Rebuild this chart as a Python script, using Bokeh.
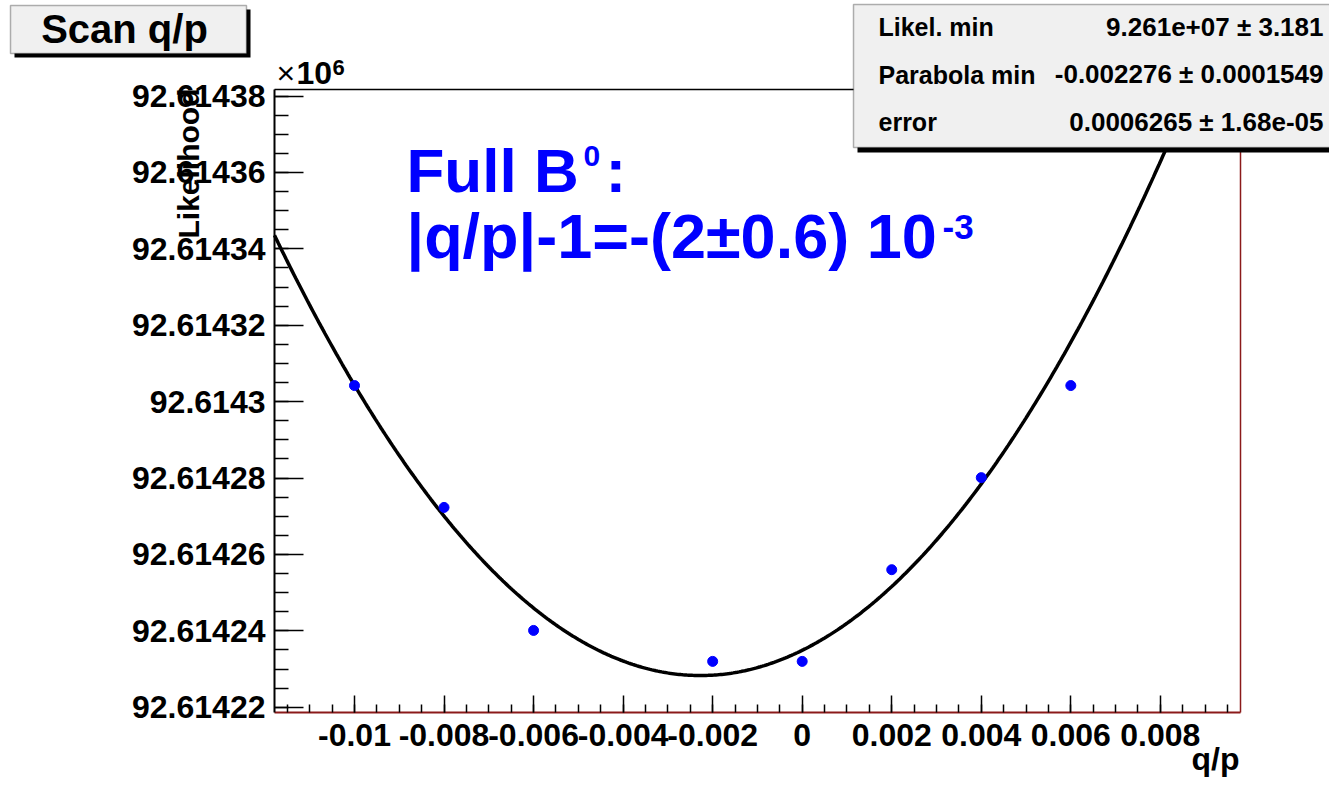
import numpy as np
from bokeh.plotting import figure
from bokeh.models import Range1d, FixedTicker, LinearAxis, Label, BoxAnnotation
from bokeh.embed import file_html
from bokeh.resources import INLINE

# ---------------- data ----------------
title_text = "Scan q/p"
x_title = "q/p"
y_title = "Likelihood"

q_p = [-0.010, -0.008, -0.006, -0.002, 0.000, 0.002, 0.004, 0.006]
likelihood = [92614304.2, 92614272.3, 92614240.1, 92614232.0,
              92614232.0, 92614256.0, 92614280.1, 92614304.2]

# fitted parabola parameters (from the stats box)
fit_min = 92614228.3
fit_x0 = -0.002276
fit_sigma = 0.0006265

x_ticks = [-0.01, -0.008, -0.006, -0.004, -0.002, 0.0, 0.002, 0.004, 0.006, 0.008]
x_tick_labels = ["-0.01", "-0.008", "-0.006", "-0.004", "-0.002", "0",
                 "0.002", "0.004", "0.006", "0.008"]
y_ticks = [92614220, 92614240, 92614260, 92614280, 92614300,
           92614320, 92614340, 92614360, 92614380]
y_tick_labels = ["92.61422", "92.61424", "92.61426", "92.61428", "92.6143",
                 "92.61432", "92.61434", "92.61436", "92.61438"]

stats_names = ["Likel. min", "Parabola min", "error"]
stats_values = ["9.261e+07 \u00b1 3.181", "-0.002276 \u00b1 0.0001549",
                "0.0006265 \u00b1 1.68e-05"]

text_line1 = "Full B"
text_line1_sup = "0"
text_line1_end = ":"
text_line2 = "|q/p|-1=-(2\u00b10.6) 10"
text_line2_sup = "-3"

# ---------------- geometry ----------------
W, H = 1329, 778
# data window of the drawn frame
x_lo, x_hi = -0.011787, 0.009790
y_lo, y_hi = 92614218.6, 92614381.7
# whole canvas mapped to data (axes are placed at the frame edges)
cx0, cx1 = -0.017907, 0.011778
cy0, cy1 = 92614201.34, 92614405.0

p = figure(width=W, height=H, x_range=Range1d(cx0, cx1),
           y_range=Range1d(cy0, cy1), output_backend="svg",
           toolbar_location=None, min_border=0, min_border_left=0,
           min_border_right=0, min_border_top=0, min_border_bottom=0)
p.grid.visible = False
p.outline_line_color = None
p.background_fill_color = "white"
p.border_fill_color = "white"

FONT = "Liberation Sans"
RED = "#8B1A1A"

x_minor = [round(-0.0115 + 0.0005 * i, 4) for i in range(43)]
y_minor = list(range(92614220, 92614381, 5))

xa = p.xaxis[0]
xa.fixed_location = y_lo
xa.bounds = (x_lo, x_hi)
xa.ticker = FixedTicker(ticks=x_ticks, minor_ticks=x_minor)
xa.major_label_overrides = dict(zip(x_ticks, x_tick_labels))
xa.axis_line_color = RED
xa.axis_line_width = 2
xa.major_tick_in = 17
xa.major_tick_out = 0
xa.minor_tick_in = 8
xa.minor_tick_out = 0
xa.major_tick_line_color = "black"
xa.minor_tick_line_color = "black"
xa.major_tick_line_width = 1.5
xa.minor_tick_line_width = 1.5
xa.major_label_text_font = FONT
xa.major_label_text_font_style = "bold"
xa.major_label_text_font_size = "32px"
xa.major_label_text_color = "black"
xa.major_label_standoff = 11

ya = p.yaxis[0]
ya.fixed_location = x_lo
ya.bounds = (y_lo, y_hi)
ya.ticker = FixedTicker(ticks=y_ticks, minor_ticks=y_minor)
ya.major_label_overrides = dict(zip(y_ticks, y_tick_labels))
ya.axis_line_color = "black"
ya.axis_line_width = 2
ya.major_tick_in = 29
ya.major_tick_out = 0
ya.minor_tick_in = 14
ya.minor_tick_out = 0
ya.major_tick_line_color = "black"
ya.minor_tick_line_color = "black"
ya.major_tick_line_width = 1.5
ya.minor_tick_line_width = 1.5
ya.major_label_text_font = FONT
ya.major_label_text_font_style = "bold"
ya.major_label_text_font_size = "32px"
ya.major_label_text_color = "black"
ya.major_label_standoff = 9

top_axis = LinearAxis(ticker=FixedTicker(ticks=[]), axis_line_color="black",
                      axis_line_width=1.5, major_tick_line_color=None,
                      minor_tick_line_color=None, major_label_text_font_size="0px",
                      fixed_location=y_hi, bounds=(x_lo, x_hi))
p.add_layout(top_axis, "above")
right_axis = LinearAxis(ticker=FixedTicker(ticks=[]), axis_line_color=RED,
                        axis_line_width=1.5, major_tick_line_color=None,
                        minor_tick_line_color=None, major_label_text_font_size="0px",
                        fixed_location=x_hi, bounds=(y_lo, y_hi))
p.add_layout(right_axis, "right")

# ---------------- glyphs ----------------
curve_x = np.linspace(x_lo, x_hi, 500)
curve_y = fit_min + 0.5 * ((curve_x - fit_x0) / fit_sigma) ** 2
curve_y = np.where(curve_y <= y_hi, curve_y, np.nan)
p.line(curve_x, curve_y, line_color="black", line_width=3.5)
p.scatter(q_p, likelihood, size=10, marker="circle", color="#0000FF")

# ---------------- annotations (page pixel positions) ----------------
def box(l, r, t, b, fill, lw=0, lc=None):
    bx = BoxAnnotation(left=l, right=r, top=H - t, bottom=H - b,
                       left_units="screen", right_units="screen",
                       top_units="screen", bottom_units="screen",
                       fill_color=fill, fill_alpha=1.0,
                       line_color=lc, line_width=lw, level="overlay")
    p.add_layout(bx)

def label(x, base, text, size, align="left", color="black", style="bold",
          corr=0.375):
    # base: wanted baseline (page px); corr compensates the renderer's offset
    lb = Label(x=x, y=H - (base - corr * size), x_units="screen",
               y_units="screen", text=text, text_font=FONT,
               text_font_style=style, text_font_size=f"{size}px",
               text_align=align, text_baseline="alphabetic",
               text_color=color, level="overlay")
    p.add_layout(lb)

# title box
box(14, 250, 9, 57, "black")
box(10, 246, 5, 53, "#F0F0F0", 1.5, "black")
label(124, 39, title_text, 40, align="center", corr=0.275)

# stats box
box(857, 1340, 8, 152, "black")
box(853, 1335, 4, 147, "#F0F0F0", 1.5, "black")
for i, (nm, vl) in enumerate(zip(stats_names, stats_values)):
    yb = 36 + 47.5 * i
    label(878, yb, nm, 25)
    label(1323, yb, vl, 26, align="right")

# exponent of y axis
label(276, 84, "\u00d7", 32, style="normal")
label(296, 84, "10", 32)
label(332, 75, "6", 22)

# y title (vertical)
p.add_layout(Label(x=188, y=H - 88, x_units="screen", y_units="screen",
                   text=y_title, text_font=FONT, text_font_style="bold",
                   text_font_size="30px", text_align="right",
                   text_baseline="alphabetic", angle=np.pi / 2,
                   text_color="black", level="overlay"))
# x title
label(1239, 770, x_title, 32, align="right", corr=0.344)

# blue annotation
BLUE = "#0000FF"
label(406, 193, text_line1, 62, color=BLUE)
label(583, 167, text_line1_sup, 30, color=BLUE)
label(605, 193, text_line1_end, 62, color=BLUE)
label(406, 267, text_line2, 63, color=BLUE, corr=0.5)
label(942, 240, text_line2_sup, 35, color=BLUE)

open("out.html", "w").write(file_html(p, INLINE))
